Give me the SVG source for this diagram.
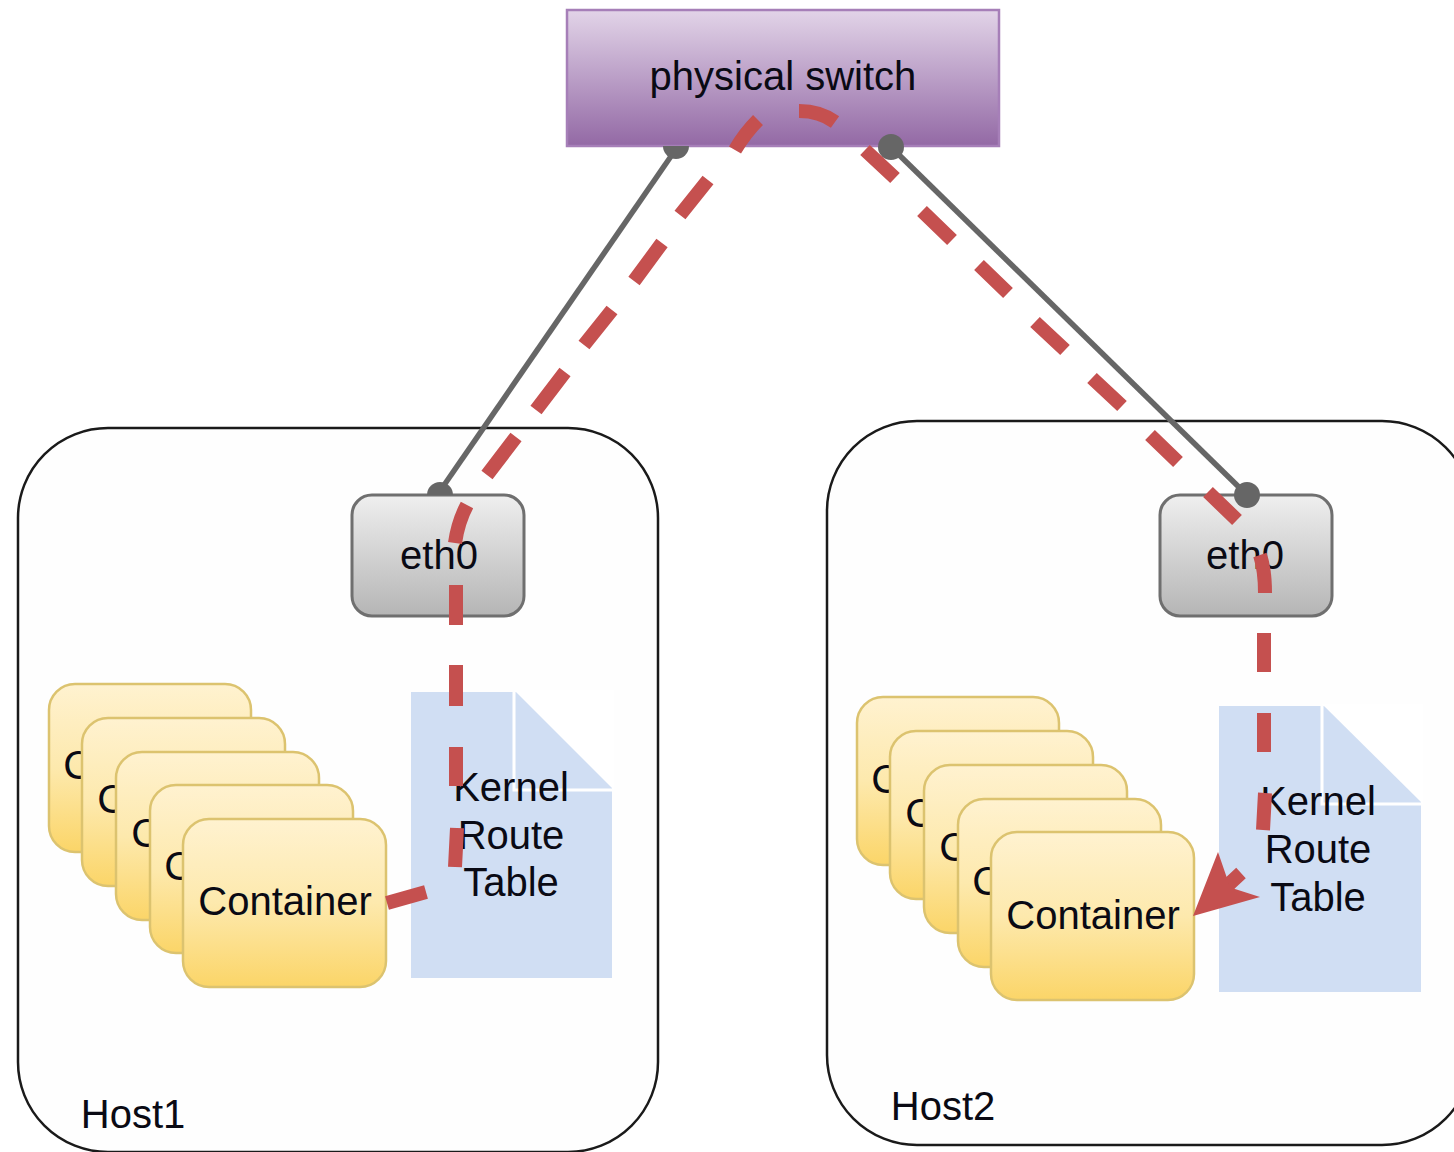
<svg xmlns="http://www.w3.org/2000/svg" width="1454" height="1152" viewBox="0 0 1454 1152">
<style>
text{font-family:"Liberation Sans",Arial,sans-serif;font-size:40px;fill:#0a0a14;text-anchor:middle}
.host{fill:#fefefe;stroke:#1a1a1a;stroke-width:2.5}
.card{fill:url(#yellow);stroke:#dcc36f;stroke-width:2.5}
.eth{fill:url(#grey);stroke:#6f6f6f;stroke-width:3}
.doc{fill:#d0def3}
.fold{fill:none;stroke:#fff;stroke-width:3}
.wire{fill:none;stroke:#666;stroke-width:5.5}
.dot{fill:#666}
.red{fill:none;stroke:#c5504f;stroke-width:14}
</style>
<defs>
<linearGradient id="yellow" x1="0" y1="0" x2="0" y2="1"><stop offset="0" stop-color="#fff2d0"/><stop offset="0.5" stop-color="#fde9ad"/><stop offset="1" stop-color="#fbd568"/></linearGradient>
<linearGradient id="grey" x1="0" y1="0" x2="0" y2="1"><stop offset="0" stop-color="#efefef"/><stop offset="1" stop-color="#b5b5b5"/></linearGradient>
<linearGradient id="purple" x1="0" y1="0" x2="0" y2="1"><stop offset="0" stop-color="#e2d4e8"/><stop offset="1" stop-color="#9369a5"/></linearGradient>
</defs>
<rect width="1454" height="1152" fill="#fff"/>
<g id="host1"><rect class="host" x="18" y="428" width="640" height="724" rx="90"/><text x="133" y="1128">Host1</text></g>
<g id="host2"><rect class="host" x="827" y="421" width="645" height="724" rx="90"/><text x="943" y="1120">Host2</text></g>
<g id="switch"><rect x="567" y="10" width="432" height="136" fill="url(#purple)" stroke="#a67fb8" stroke-width="2.5"/><text x="783" y="90">physical switch</text></g>
<g id="eth0-1"><rect class="eth" x="352" y="495" width="172" height="121" rx="20"/><text x="439" y="569">eth0</text></g>
<g id="eth0-2"><rect class="eth" x="1160" y="495" width="172" height="121" rx="20"/><text x="1245" y="569">eth0</text></g>
<g id="table1"><path class="doc" d="M411 692H612V978H411Z"/><path d="M514 692V790H612" class="fold"/><path d="M514 690L614 790V690Z" fill="#fff"/><text x="511" y="801">Kernel</text><text x="511" y="849">Route</text><text x="511" y="896">Table</text></g>
<g id="table2"><path class="doc" d="M1219 706H1421V992H1219Z"/><path d="M1322 706V804H1421" class="fold"/><path d="M1322 704L1423 804V704Z" fill="#fff"/><text x="1318" y="815">Kernel</text><text x="1318" y="863">Route</text><text x="1318" y="911">Table</text></g>
<g id="containers1">
<g id="c1-1"><rect class="card" x="49" y="684" width="202" height="168" rx="26"/><text x="150" y="779">Container</text></g>
<g id="c1-2"><rect class="card" x="82" y="718" width="203" height="168" rx="26"/><text x="184" y="813">Container</text></g>
<g id="c1-3"><rect class="card" x="116" y="752" width="203" height="168" rx="26"/><text x="218" y="847">Container</text></g>
<g id="c1-4"><rect class="card" x="150" y="785" width="203" height="168" rx="26"/><text x="251" y="880">Container</text></g>
<g id="c1-5"><rect class="card" x="183" y="819" width="203" height="168" rx="26"/><text x="285" y="915">Container</text></g>
</g>
<g id="containers2">
<g id="c2-1"><rect class="card" x="857" y="697" width="202" height="168" rx="26"/><text x="958" y="793">Container</text></g>
<g id="c2-2"><rect class="card" x="890" y="731" width="203" height="168" rx="26"/><text x="992" y="827">Container</text></g>
<g id="c2-3"><rect class="card" x="924" y="765" width="203" height="168" rx="26"/><text x="1026" y="861">Container</text></g>
<g id="c2-4"><rect class="card" x="958" y="799" width="203" height="168" rx="26"/><text x="1059" y="895">Container</text></g>
<g id="c2-5"><rect class="card" x="991" y="832" width="203" height="168" rx="26"/><text x="1093" y="929">Container</text></g>
</g>
<g id="connectors">
<path class="wire" d="M676 149L440 491"/>
<path class="wire" d="M891 147L1247 495"/>
<path class="dot" d="M663 146A13 13 0 0 0 689 146Z"/>
<path class="dot" d="M427 495A13 13 0 0 1 453 495Z"/>
<circle class="dot" cx="891" cy="147" r="13"/>
<circle class="dot" cx="1247" cy="495" r="13"/>
<path class="red" d="M735 150Q745 133 758 120M708 180L680 215M662 243L634 281M612 310L584 345M565 372L536 410M516 437L487 475M467 505Q458 522 455 543M456 585V625M456 665V706M456 747V786M457 828L455 867M426 892L387 903"/>
<path class="red" d="M799 111Q820 111 835 122M865 150L895 178M922 211L952 240M979 265L1008 293M1035 322L1065 350M1092 378L1122 406M1150 435L1178 462M1208 492L1237 520M1260 555Q1265 570 1265 593M1264 633V672M1264 713V752M1265 793L1263 830M1241 873L1227 886"/>
<path d="M1193 916L1218 852L1229 884L1235 889L1260 897Z" fill="#c5504f"/>
</g>
</svg>
